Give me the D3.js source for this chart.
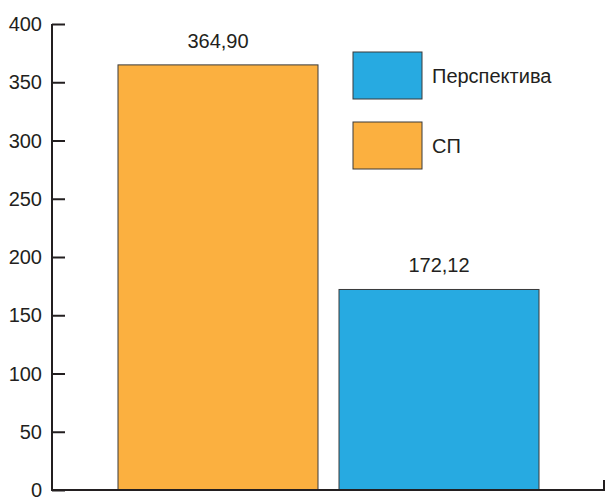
<!DOCTYPE html>
<html>
<head>
<meta charset="utf-8">
<script src="https://cdn.jsdelivr.net/npm/d3@7"></script>
<style>
  html, body { margin: 0; padding: 0; background: #fff; }
  svg { display: block; font-family: "Liberation Sans", Arial, sans-serif; }
</style>
</head>
<body>
<svg id="chart" width="606" height="499"></svg>
<script>
// Bar data
const categories = ["СП", "Перспектива"];
const values = [364.90, 172.12];
const valueLabels = ["364,90", "172,12"];
const colors = ["#FBB040", "#27AAE1"];
// Legend order (top to bottom)
const legendNames = ["Перспектива", "СП"];
const legendColors = ["#27AAE1", "#FBB040"];
const yTicks = [0, 50, 100, 150, 200, 250, 300, 350, 400];

const svg = d3.select("#chart");
const ink = "#231f20";

const y = d3.scaleLinear().domain([0, 400]).range([490, 24]);
const x = d3.scaleBand().domain(categories).range([118, 539]).paddingInner(21 / 221).paddingOuter(0);

// Bars
svg.selectAll("rect.bar").data(values).join("rect")
  .attr("class", "bar")
  .attr("x", (d, i) => x(categories[i]))
  .attr("width", x.bandwidth())
  .attr("y", d => y(d))
  .attr("height", d => y(0) - y(d))
  .attr("fill", (d, i) => colors[i])
  .attr("stroke", "#3a3a3a")
  .attr("stroke-width", 1);

// Value labels
svg.selectAll("text.val").data(values).join("text")
  .attr("class", "val")
  .attr("x", (d, i) => x(categories[i]) + x.bandwidth() / 2)
  .attr("y", d => y(d) - 17)
  .attr("text-anchor", "middle")
  .attr("font-size", 20)
  .attr("fill", ink)
  .text((d, i) => valueLabels[i]);

// Y axis with inward ticks
const yAxis = d3.axisRight(y).tickValues(yTicks).tickSize(13).tickFormat("");
const gy = svg.append("g").attr("transform", "translate(52,0)").call(yAxis);
gy.select(".domain").remove();
gy.selectAll("line").attr("stroke", ink).attr("stroke-width", 2);
svg.append("line").attr("x1", 52).attr("x2", 52).attr("y1", y(400)).attr("y2", y(0) + 1)
  .attr("stroke", ink).attr("stroke-width", 2);

svg.selectAll("text.ytick").data(yTicks).join("text")
  .attr("class", "ytick")
  .attr("x", 42)
  .attr("y", d => y(d))
  .attr("dy", "0.36em")
  .attr("text-anchor", "end")
  .attr("font-size", 20)
  .attr("fill", ink)
  .text(d => d);

// Baseline with end tick
svg.append("path")
  .attr("d", `M52,${y(0)}H604V${y(0) - 10}`)
  .attr("fill", "none")
  .attr("stroke", ink)
  .attr("stroke-width", 2);

// Legend
const leg = svg.selectAll("g.leg").data(legendNames).join("g")
  .attr("class", "leg")
  .attr("transform", (d, i) => `translate(353,${52 + i * 70})`);
leg.append("rect")
  .attr("width", 69).attr("height", 47)
  .attr("fill", (d, i) => legendColors[i])
  .attr("stroke", "#3a3a3a").attr("stroke-width", 1);
leg.append("text")
  .attr("x", 79).attr("y", 31)
  .attr("font-size", 20)
  .attr("fill", ink)
  .text(d => d);
</script>
</body>
</html>
